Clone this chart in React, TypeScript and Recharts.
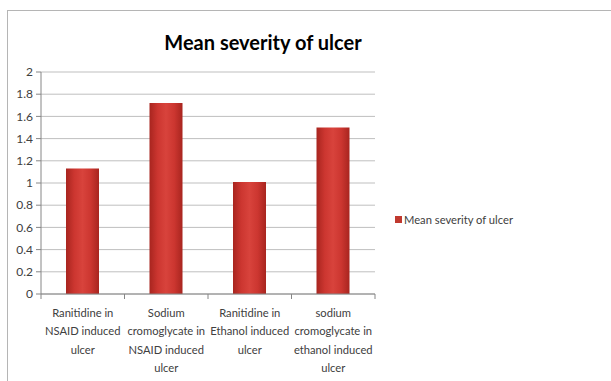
import React from "react";
import { BarChart, Bar, XAxis, YAxis, CartesianGrid, Legend } from "recharts";

const categories = [
  "Ranitidine in NSAID induced ulcer",
  "Sodium cromoglycate in NSAID induced ulcer",
  "Ranitidine in Ethanol induced ulcer",
  "sodium cromoglycate in ethanol induced ulcer",
];
const categoryLines = [
  ["Ranitidine in", "NSAID induced", "ulcer"],
  ["Sodium", "cromoglycate in", "NSAID induced", "ulcer"],
  ["Ranitidine in", "Ethanol induced", "ulcer"],
  ["sodium", "cromoglycate in", "ethanol induced", "ulcer"],
];
const meanSeverity = [1.13, 1.72, 1.01, 1.5];
const yTicks = [0, 0.2, 0.4, 0.6, 0.8, 1, 1.2, 1.4, 1.6, 1.8, 2];
const seriesName = "Mean severity of ulcer";
const title = "Mean severity of ulcer";

const data = categories.map((c, i) => ({ name: c, value: meanSeverity[i], idx: i }));

const FONT = "Lato, 'Open Sans', sans-serif";
const HALF_BAND = 334 / categories.length / 2;

const XTick = (props: any) => {
  const { x, y, payload, index } = props;
  const lines = categoryLines[payload.index ?? index] || [String(payload.value)];
  const top = y - 8;
  return (
    <g>
      <line x1={x + HALF_BAND} y1={top} x2={x + HALF_BAND} y2={top + 5} stroke="#868686" />
      {index === 0 && (
        <line x1={x - HALF_BAND} y1={top} x2={x - HALF_BAND} y2={top + 5} stroke="#868686" />
      )}
      <text x={x} y={top + 23} textAnchor="middle" fill="#404040" fontSize={11.2} fontFamily={FONT}>
        {lines.map((l: string, i: number) => (
          <tspan key={i} x={x} dy={i === 0 ? 0 : 18.3}>
            {l}
          </tspan>
        ))}
      </text>
    </g>
  );
};

const LegendContent = () => (
  <div style={{ display: "flex", alignItems: "center", fontFamily: FONT, fontSize: 11.2, color: "#404040" }}>
    <span style={{ display: "inline-block", width: 7, height: 7, background: "#C0392F", marginRight: 2 }} />
    <span>{seriesName}</span>
  </div>
);

export default function App() {
  return (
    <div style={{ position: "absolute", left: 0, top: 0, width: 611, height: 381, background: "#fff", overflow: "hidden" }}>
      <div
        style={{
          position: "absolute",
          left: 7,
          top: 10,
          width: 700,
          height: 500,
          borderLeft: "1.5px solid #b5b5b5",
          borderTop: "1.5px solid #b5b5b5",
        }}
      />
      <div
        style={{
          position: "absolute",
          left: 0,
          width: 526,
          top: 30,
          textAlign: "center",
          fontFamily: FONT,
          fontWeight: 700,
          fontSize: 20,
          color: "#000",
        }}
      >
        {title}
      </div>
      <div style={{ position: "absolute", left: 0, top: 0 }}>
        <BarChart
          width={611}
          height={381}
          data={data}
          margin={{ top: 72, right: 236, bottom: 7, left: 0 }}
          barSize={33}
        >
          <defs>
            <linearGradient id="barGrad" x1="0" y1="0" x2="1" y2="0">
              <stop offset="0%" stopColor="#A8251F" />
              <stop offset="25%" stopColor="#CC3630" />
              <stop offset="50%" stopColor="#D8433C" />
              <stop offset="75%" stopColor="#CC3630" />
              <stop offset="100%" stopColor="#A8251F" />
            </linearGradient>
          </defs>
          <CartesianGrid vertical={false} stroke="#bfbfbf" />
          <XAxis
            dataKey="name"
            interval={0}
            height={80}
            tickLine={false}
            axisLine={{ stroke: "#868686" }}
            tick={<XTick />}
          />
          <YAxis
            width={41}
            domain={[0, 2]}
            ticks={yTicks}
            interval={0}
            tickSize={5}
            tickMargin={3}
            axisLine={{ stroke: "#868686" }}
            tickLine={{ stroke: "#868686" }}
            tick={{ fill: "#404040", fontSize: 12, fontFamily: FONT }}
          />
          <Legend
            layout="horizontal"
            verticalAlign="middle"
            align="center"
            wrapperStyle={{ left: 395, top: 213, width: 200 }}
            content={<LegendContent />}
          />
          <Bar dataKey="value" name={seriesName} fill="url(#barGrad)" isAnimationActive={false} />
        </BarChart>
      </div>
    </div>
  );
}
